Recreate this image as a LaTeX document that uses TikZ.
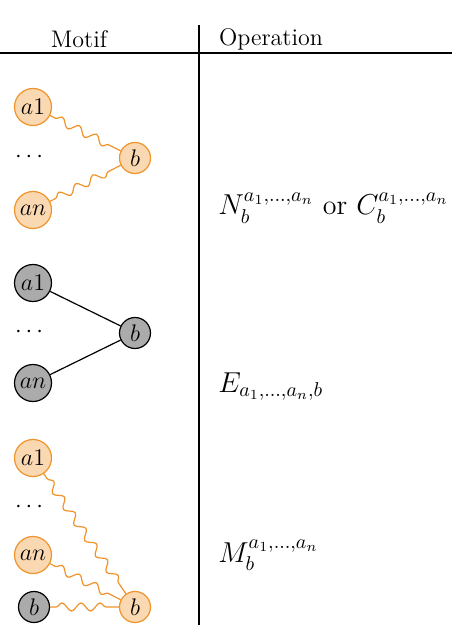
\documentclass[tikz,border=0pt]{standalone}
\usepackage{amsmath}
\usepackage{xcolor}
\usepackage{tikz}
\usetikzlibrary{decorations.pathmorphing}
\definecolor{motorange}{HTML}{F0932B}
\definecolor{motpeach}{HTML}{FAD9B2}
\definecolor{motgray}{HTML}{ABABAB}

\begin{document}
\begin{tikzpicture}[x=0.5pt,y=-0.5pt,font=\large,
  onode/.style={circle,draw=motorange,fill=motpeach,line width=0.6pt,inner sep=0pt,minimum size=18.5pt},
  osmall/.style={onode,minimum size=15.5pt},
  gnode/.style={circle,draw=black,fill=motgray,line width=0.6pt,inner sep=0pt,minimum size=18.5pt},
  gsmall/.style={gnode,minimum size=15.5pt},
  wig/.style={draw=motorange,line width=0.6pt,decorate,decoration={snake,segment length=9.5pt,amplitude=2pt,pre length=3pt,post length=3pt}},
  plain/.style={draw=black,line width=0.6pt},
  op/.style={anchor=base west,inner sep=0pt,font=\fontsize{14}{16}\selectfont}]
  \useasboundingbox (0,0) rectangle (452,630);
  % table rules
  \draw[line width=0.6pt] (0,53) -- (452,53);
  \draw[line width=0.6pt] (199,25) -- (199,625);
  \node (hmotif) at (79,39) {Motif};
  \node[anchor=west] (hop) at (212,39) {Operation};
  % neighbourhood / cluster
  \node[onode] (na1) at (33,107) {$a1$};
  \node[onode] (nan) at (33,210) {$an$};
  \node[osmall] (nb) at (135,158) {$b$};
  \node (ndots) at (31,157) {$\cdots$};
  \draw[wig] (na1) -- (nb);
  \draw[wig] (nan) -- (nb);
  \node[op] (nop) at (218,215) {$N_b^{a_1,\dots,a_n}$ or $C_b^{a_1,\dots,a_n}$};
  % edge
  \node[gnode] (ea1) at (33,283) {$a1$};
  \node[gnode] (ean) at (33,383) {$an$};
  \node[gsmall] (eb) at (135,333) {$b$};
  \node (edots) at (31,332) {$\cdots$};
  \draw[plain] (ea1) -- (eb);
  \draw[plain] (ean) -- (eb);
  \node[op] (eop) at (218,392) {$E_{a_1,\dots,a_n,b}$};
  % merge
  \node[onode] (ma1) at (33,458) {$a1$};
  \node[onode] (man) at (33,555) {$an$};
  \node[gsmall] (mbg) at (34,607) {$b$};
  \node[osmall] (mb) at (135,607) {$b$};
  \node (mdots) at (31,507) {$\cdots$};
  \draw[wig] (ma1) -- (mb);
  \draw[wig] (man) -- (mb);
  \draw[wig] (mbg) -- (mb);
  \node[op] (mop) at (218,562) {$M_b^{a_1,\dots,a_n}$};
\end{tikzpicture}
\end{document}
